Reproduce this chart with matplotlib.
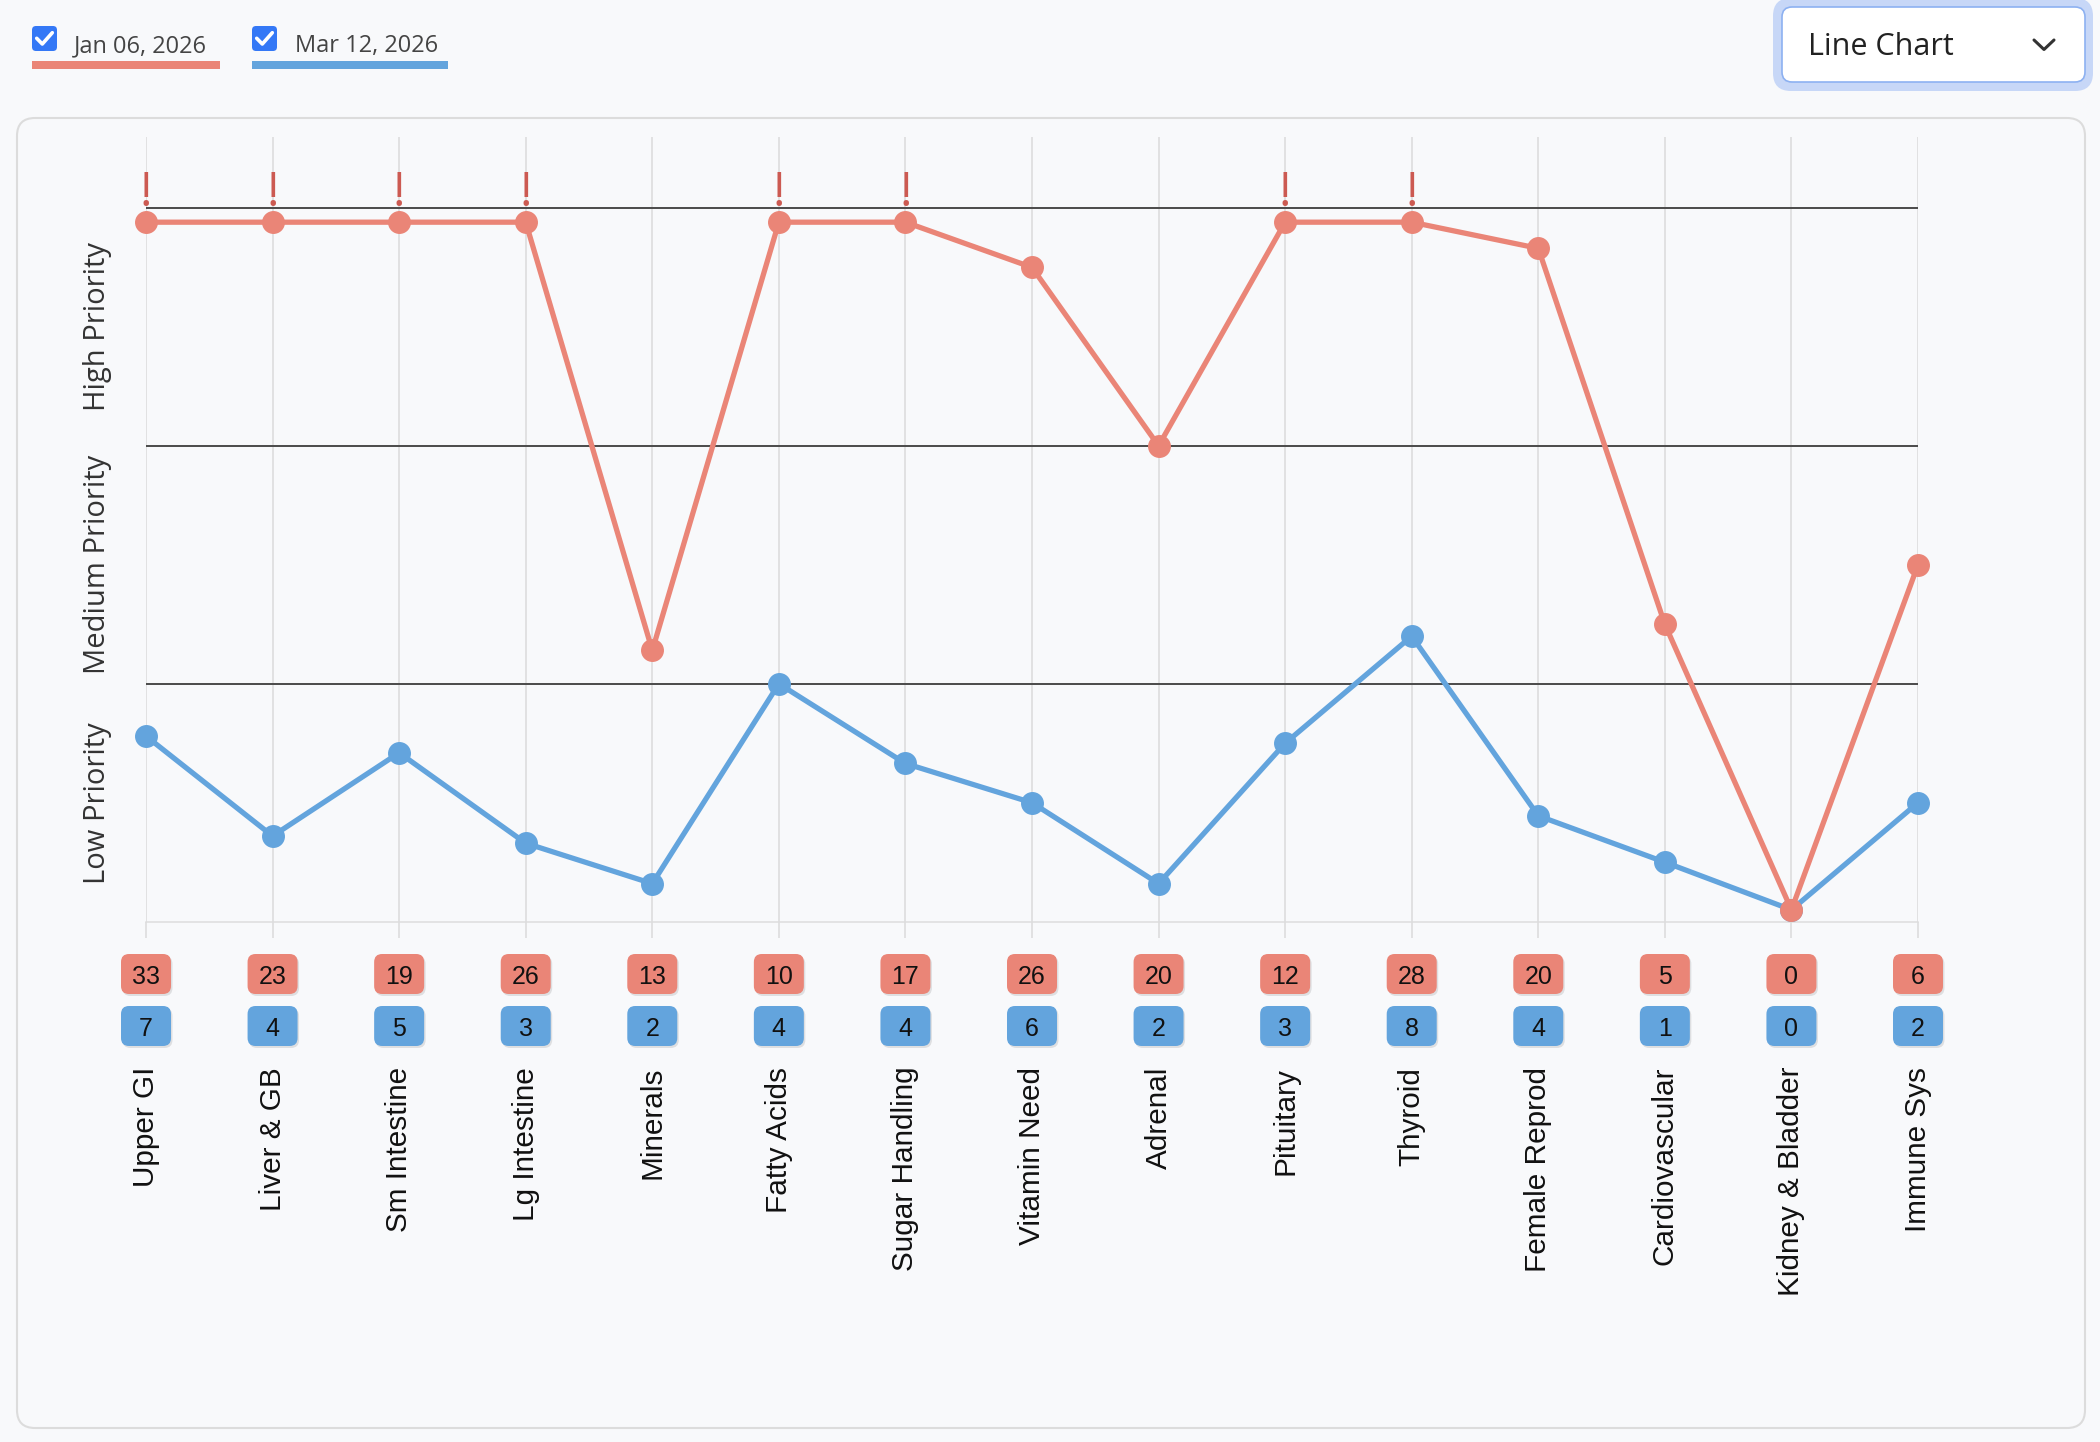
import numpy as np
import matplotlib.pyplot as plt
from matplotlib.patches import FancyBboxPatch, Rectangle

# Datos: nivel de prioridad (0-1 baja, 1-2 media, 2-3 alta)
categorias = ["Upper GI", "Liver & GB", "Sm Intestine", "Lg Intestine", "Minerals",
              "Fatty Acids", "Sugar Handling", "Vitamin Need", "Adrenal", "Pituitary",
              "Thyroid", "Female Reprod", "Cardiovascular", "Kidney & Bladder", "Immune Sys"]
fechas = ["Jan 06, 2026", "Mar 12, 2026"]
nivel_ene = [2.94, 2.94, 2.94, 2.94, 1.14, 2.94, 2.94, 2.75, 2.00, 2.94, 2.94, 2.83, 1.25, 0.05, 1.50]
nivel_mar = [0.78, 0.36, 0.71, 0.33, 0.16, 1.00, 0.665, 0.50, 0.16, 0.75, 1.20, 0.445, 0.25, 0.05, 0.50]
conteo_ene = [33, 23, 19, 26, 13, 10, 17, 26, 20, 12, 28, 20, 5, 0, 6]
conteo_mar = [7, 4, 5, 3, 2, 4, 4, 6, 2, 3, 8, 4, 1, 0, 2]
bandas = ["Low Priority", "Medium Priority", "High Priority"]

ROJO = '#ea8577'
AZUL = '#63a4dd'
FONDO = '#f8f9fb'
W, H = 2100, 1442

fig = plt.figure(figsize=(W / 100, H / 100), dpi=100, facecolor=FONDO)

# Capa de fondo (tarjeta, leyenda, selector)
bg = fig.add_axes([0, 0, 1, 1])
bg.set_xlim(0, W)
bg.set_ylim(H, 0)
bg.axis('off')
bg.add_patch(FancyBboxPatch((17, 118), 2068, 1310, boxstyle='round,pad=0,rounding_size=18',
                            fc=FONDO, ec='#dcdcdc', lw=1.5))

# Leyenda con casillas
leyenda = [(32, 74, 220, ROJO), (252, 295, 448, AZUL)]
for (x0, xt, x1, col), fecha in zip(leyenda, fechas):
    bg.add_patch(FancyBboxPatch((x0, 26), 25, 25, boxstyle='round,pad=0,rounding_size=4',
                                fc='#3478f6', ec='none'))
    bg.plot([x0 + 4.7, x0 + 10.3, x0 + 20.3], [38.3, 44, 32.7], color='white', lw=2.6,
            solid_capstyle='round', solid_joinstyle='round')
    bg.text(xt, 52, fecha, fontsize=17, family='Open Sans', color='#444', va='baseline')
    bg.add_patch(Rectangle((x0, 61), x1 - x0, 8, fc=col, ec='none'))

# Selector de tipo de gráfico
bg.add_patch(FancyBboxPatch((1773, -2), 320, 93, boxstyle='round,pad=0,rounding_size=18',
                            fc='#c7d7f7', ec='none'))
bg.add_patch(FancyBboxPatch((1782, 7), 303, 75, boxstyle='round,pad=0,rounding_size=10',
                            fc='white', ec='#8db1f1', lw=1.2))
bg.text(1808, 47, "Line Chart", fontsize=22, family='Open Sans', color='#222', va='center')
bg.plot([2034, 2044, 2054], [40, 49.5, 40], color='#333', lw=2.2,
        solid_capstyle='round', solid_joinstyle='round')

# Eje principal
ax = fig.add_axes([146 / W, (H - 921.7) / H, (1918 - 146) / W, (921.7 - 137) / H])
ax.set_facecolor('none')
x = np.arange(len(categorias))
ax.set_xlim(0, len(categorias) - 1)
ax.set_ylim(0, 3.298)

for s in ['top', 'right', 'left']:
    ax.spines[s].set_visible(False)
ax.spines['bottom'].set_color('#dddddd')
ax.spines['bottom'].set_linewidth(1.1)
ax.set_yticks([])
ax.set_xticks(x)
ax.set_xticklabels(categorias, rotation=90, fontsize=21.4, family='Liberation Sans', color='#111')
ax.tick_params(axis='x', length=11.5, width=1.2, color='#dddddd', pad=93)
ax.grid(axis='x', color='#dddddd', lw=1.2, zorder=0)
ax.set_axisbelow(True)

# Límites de prioridad
ax.hlines([1, 2, 3], 0, len(categorias) - 1, color='#4a4a4a', lw=1.4, zorder=2)
for i, b in enumerate(bandas):
    ax.annotate(b, xy=(0, i + 0.5), xytext=(-48, 0), textcoords='offset pixels',
                rotation=90, ha='center', va='center', fontsize=21,
                family='Open Sans', color='#333', annotation_clip=False)

# Series
ax.plot(x, nivel_mar, color=AZUL, lw=3.8, marker='o', ms=15.5, zorder=3, clip_on=False)
ax.plot(x, nivel_ene, color=ROJO, lw=3.8, marker='o', ms=15.5, zorder=4, clip_on=False)

for i, v in enumerate(nivel_ene):
    if v >= 2.9:
        ax.annotate("!", xy=(i, 3), xytext=(0, 2), textcoords='offset pixels',
                    ha='center', va='baseline', fontsize=34, family='Open Sans',
                    color='#cc5a52', annotation_clip=False)

# Etiquetas de conteo
p0 = ax.transData.transform((0, 0))
p1 = ax.transData.transform((1, 1))
sx, sy = p1[0] - p0[0], p1[1] - p0[1]
bw, bh = 50 / sx, 40 / sy
for conteos, col, off in [(conteo_ene, ROJO, 52.3), (conteo_mar, AZUL, 104.3)]:
    yc = -off / sy
    for i, n in enumerate(conteos):
        sombra = FancyBboxPatch((i - bw / 2 + 1.5 / sx, yc - bh / 2 - 2 / sy), bw, bh,
                                boxstyle=f'round,pad=0,rounding_size={8 / sx}',
                                mutation_aspect=sx / sy, fc='black', alpha=0.10,
                                ec='none', clip_on=False, zorder=5)
        caja = FancyBboxPatch((i - bw / 2, yc - bh / 2), bw, bh,
                              boxstyle=f'round,pad=0,rounding_size={8 / sx}',
                              mutation_aspect=sx / sy, fc=col, ec='none',
                              clip_on=False, zorder=6)
        ax.add_patch(sombra)
        ax.add_patch(caja)
        ax.text(i, yc, str(n), ha='center', va='center_baseline', fontsize=18,
                family='Liberation Sans', color='#111', clip_on=False, zorder=7)

fig.savefig('out.png', dpi=100, facecolor=FONDO)
